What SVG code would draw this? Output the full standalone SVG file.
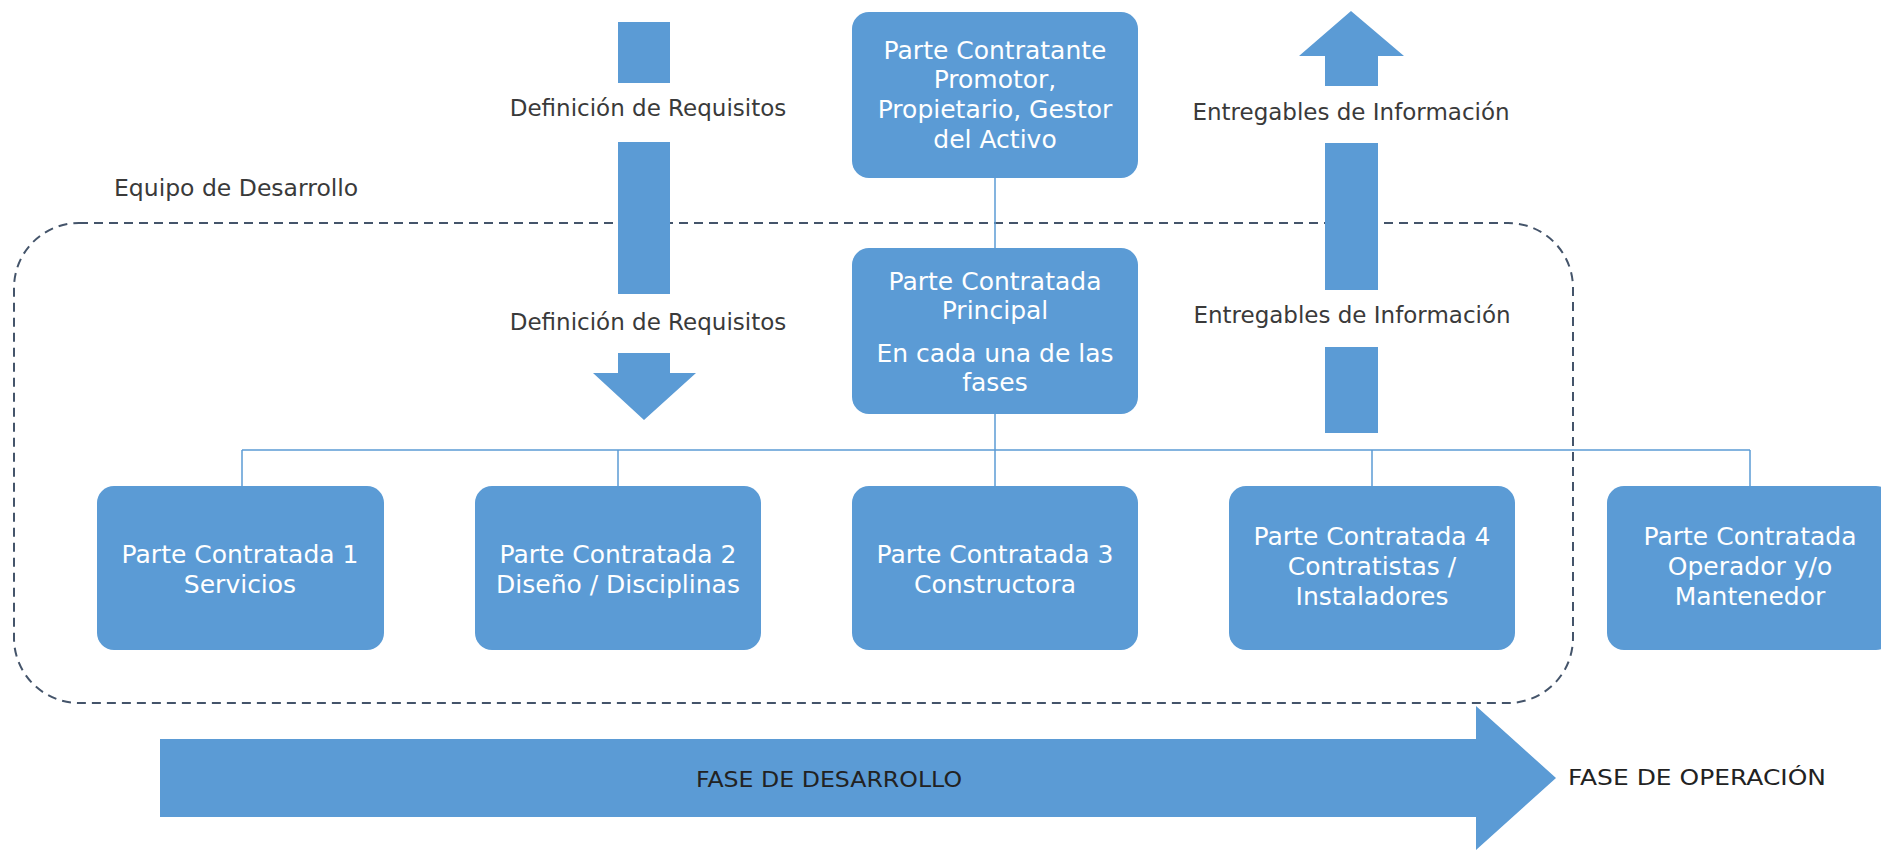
<svg xmlns="http://www.w3.org/2000/svg" width="1881" height="851" viewBox="0 0 1881 851">
<style>
.box{fill:#5b9bd5;}
.nt{font-family:"DejaVu Sans","Liberation Sans",sans-serif;font-size:25px;fill:#ffffff;text-anchor:middle;}
.lbl{font-family:"DejaVu Sans","Liberation Sans",sans-serif;font-size:23px;fill:#3a3a3a;text-anchor:middle;}
.arr{fill:#5b9bd5;}
.con{stroke:#5b9bd5;stroke-width:1.5;fill:none;}
</style>
<rect width="1881" height="851" fill="#ffffff"/>
<g id="team">
<rect x="14" y="223" width="1559" height="480" rx="65" ry="65" fill="none" stroke="#44546a" stroke-width="2" stroke-dasharray="9 6"/>
<text class="lbl" x="114" y="196" style="text-anchor:start;font-size:23.5px">Equipo de Desarrollo</text>
</g>
<g id="connectors">
<line class="con" x1="995" y1="178" x2="995" y2="248"/>
<line class="con" x1="995" y1="414" x2="995" y2="450"/>
<line class="con" x1="242" y1="450" x2="1750" y2="450"/>
<line class="con" x1="242" y1="450" x2="242" y2="486"/>
<line class="con" x1="618" y1="450" x2="618" y2="486"/>
<line class="con" x1="995" y1="450" x2="995" y2="486"/>
<line class="con" x1="1372" y1="450" x2="1372" y2="486"/>
<line class="con" x1="1750" y1="450" x2="1750" y2="486"/>
</g>
<g id="req-arrow">
<rect class="arr" x="618" y="22" width="52" height="61"/>
<text class="lbl" x="648" y="116">Definición de Requisitos</text>
<rect class="arr" x="618" y="142" width="52" height="152"/>
<text class="lbl" x="648" y="330">Definición de Requisitos</text>
<polygon class="arr" points="618,353 670,353 670,373 696,373 644,420 593,373 618,373"/>
</g>
<g id="info-arrow">
<polygon class="arr" points="1351,11 1404,56 1378,56 1378,86 1325,86 1325,56 1299,56"/>
<text class="lbl" x="1351" y="120">Entregables de Información</text>
<rect class="arr" x="1325" y="143" width="53" height="147"/>
<text class="lbl" x="1352" y="323">Entregables de Información</text>
<rect class="arr" x="1325" y="347" width="53" height="86"/>
</g>
<g id="n-contratante">
<rect class="box" x="852" y="12" width="286" height="166" rx="17"/>
<text class="nt" x="995" y="59">Parte Contratante</text>
<text class="nt" x="995" y="88">Promotor,</text>
<text class="nt" x="995" y="118">Propietario, Gestor</text>
<text class="nt" x="995" y="148">del Activo</text>
</g>
<g id="n-principal">
<rect class="box" x="852" y="248" width="286" height="166" rx="17"/>
<text class="nt" x="995" y="290">Parte Contratada</text>
<text class="nt" x="995" y="319">Principal</text>
<text class="nt" x="995" y="362">En cada una de las</text>
<text class="nt" x="995" y="391">fases</text>
</g>
<g id="n-pc1">
<rect class="box" x="97" y="486" width="287" height="164" rx="17"/>
<text class="nt" x="240" y="563">Parte Contratada 1</text>
<text class="nt" x="240" y="593">Servicios</text>
</g>
<g id="n-pc2">
<rect class="box" x="475" y="486" width="286" height="164" rx="17"/>
<text class="nt" x="618" y="563">Parte Contratada 2</text>
<text class="nt" x="618" y="593">Diseño / Disciplinas</text>
</g>
<g id="n-pc3">
<rect class="box" x="852" y="486" width="286" height="164" rx="17"/>
<text class="nt" x="995" y="563">Parte Contratada 3</text>
<text class="nt" x="995" y="593">Constructora</text>
</g>
<g id="n-pc4">
<rect class="box" x="1229" y="486" width="286" height="164" rx="17"/>
<text class="nt" x="1372" y="545">Parte Contratada 4</text>
<text class="nt" x="1372" y="575">Contratistas /</text>
<text class="nt" x="1372" y="605">Instaladores</text>
</g>
<g id="n-operador">
<rect class="box" x="1607" y="486" width="286" height="164" rx="17"/>
<text class="nt" x="1750" y="545">Parte Contratada</text>
<text class="nt" x="1750" y="575">Operador y/o</text>
<text class="nt" x="1750" y="605">Mantenedor</text>
</g>
<g id="phase-arrow">
<polygon class="arr" points="160,739 1476,739 1476,706 1556,778 1476,850 1476,817 160,817"/>
<text class="lbl" x="829" y="787" textLength="266" lengthAdjust="spacingAndGlyphs" style="font-size:21px;fill:#222">FASE DE DESARROLLO</text>
<text class="lbl" x="1568" y="785" textLength="258" lengthAdjust="spacingAndGlyphs" style="text-anchor:start;font-size:21px;fill:#222">FASE DE OPERACIÓN</text>
</g>
</svg>
